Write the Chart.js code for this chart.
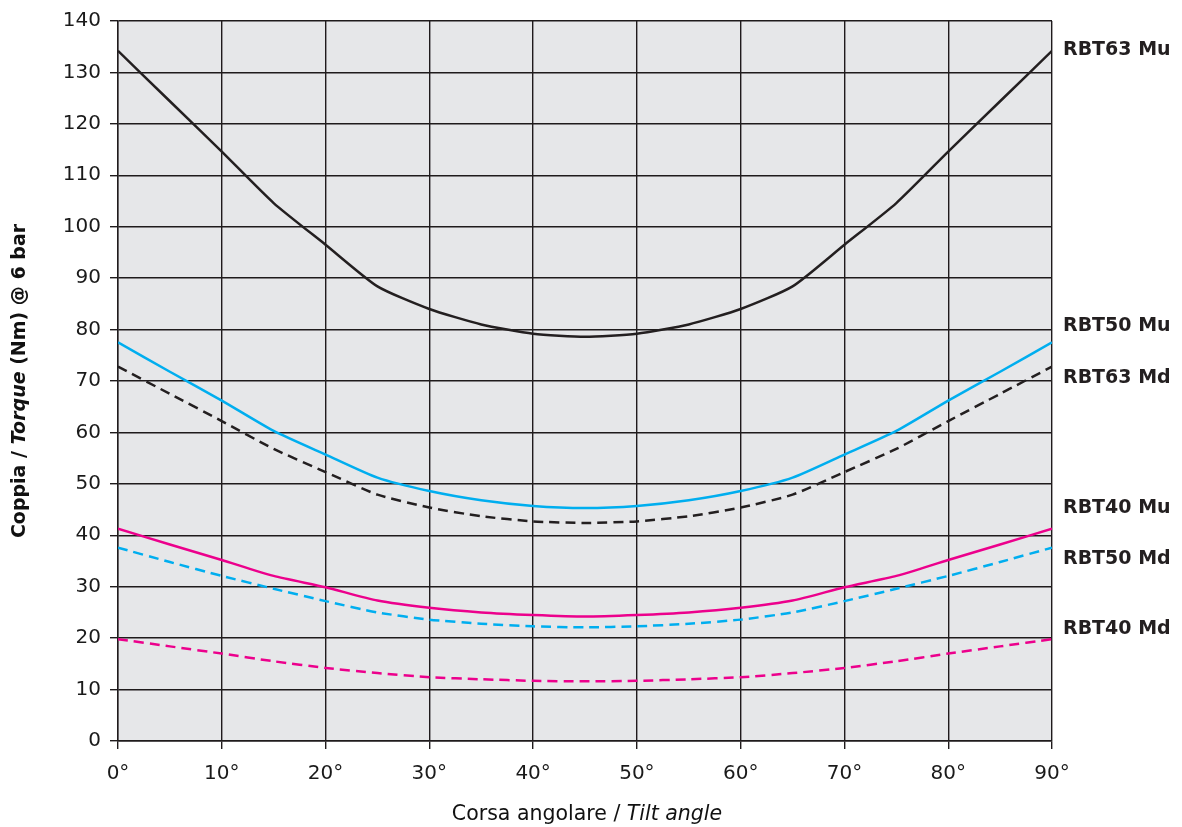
<!DOCTYPE html>
<html lang="it">
<head>
    <meta charset="UTF-8">
    <title>Coppia / Torque</title>
    <script src="https://cdn.jsdelivr.net/npm/chart.js"></script>
    <style>
        body { margin: 0; background: #fff; }
        #wrap { width: 1182px; height: 827px; }
    </style>
</head>
<body>
    <div id="wrap"><canvas id="myChart" width="1182" height="827"></canvas></div>
    <script>
    // angoli in gradi
    const angles = [0, 5, 10, 15, 20, 25, 30, 35, 40, 45, 50, 55, 60, 65, 70, 75, 80, 85, 90];

    // metà curva (0..45), il resto è speculare
    const rbt63MuHalf = [134.2, 124.4, 114.6, 104.6, 96.5, 88.4, 84.0, 81.0, 79.2, 78.6];
    const rbt50MuHalf = [77.5, 71.8, 66.2, 60.3, 55.7, 51.2, 48.6, 46.8, 45.7, 45.3];
    const rbt63MdHalf = [72.8, 67.5, 62.2, 56.8, 52.3, 47.9, 45.4, 43.7, 42.7, 42.4];
    const rbt40MuHalf = [41.3, 38.2, 35.2, 32.1, 29.9, 27.3, 25.9, 25.0, 24.5, 24.2];
    const rbt50MdHalf = [37.6, 34.8, 32.1, 29.6, 27.2, 25.0, 23.6, 22.8, 22.3, 22.1];
    const rbt40MdHalf = [19.8, 18.4, 17.0, 15.5, 14.2, 13.2, 12.4, 12.0, 11.7, 11.6];

    const seriesNames = ['RBT63 Mu', 'RBT50 Mu', 'RBT63 Md', 'RBT40 Mu', 'RBT50 Md', 'RBT40 Md'];
    // posizione (in Nm) delle etichette a destra
    const labelLevels = [134.4, 80.6, 70.5, 45.3, 35.4, 21.7];

    const yTicks = [0, 10, 20, 30, 40, 50, 60, 70, 80, 90, 100, 110, 120, 130, 140];
    const xTicks = [0, 10, 20, 30, 40, 50, 60, 70, 80, 90];

    function mirror(half) {
        return half.concat(half.slice(0, -1).reverse());
    }

    function toPoints(values) {
        return angles.map((a, i) => ({ x: a, y: values[i] }));
    }

    const BLACK = '#231f20';
    const CYAN = '#00aeef';
    const MAGENTA = '#ec008c';

    const styles = [
        { color: BLACK, dash: [] },
        { color: CYAN, dash: [] },
        { color: BLACK, dash: [10, 6] },
        { color: MAGENTA, dash: [] },
        { color: CYAN, dash: [10, 6] },
        { color: MAGENTA, dash: [10, 6] }
    ];

    const halves = [rbt63MuHalf, rbt50MuHalf, rbt63MdHalf, rbt40MuHalf, rbt50MdHalf, rbt40MdHalf];

    const datasets = halves.map((h, i) => ({
        label: seriesNames[i],
        data: toPoints(mirror(h)),
        borderColor: styles[i].color,
        borderDash: styles[i].dash,
        borderWidth: 2.5,
        pointRadius: 0,
        tension: 0.2,
        fill: false
    }));

    const FONT = '"DejaVu Sans", "Liberation Sans", sans-serif';

    // sfondo grigio dell'area grafico
    const plotBg = {
        id: 'plotBg',
        beforeDraw(chart) {
            const { ctx, chartArea: a } = chart;
            ctx.save();
            ctx.fillStyle = '#e6e7e9';
            ctx.fillRect(a.left, a.top, a.right - a.left, a.bottom - a.top);
            ctx.restore();
        }
    };

    // testo con parti in corsivo
    function drawRuns(ctx, runs, size, weight) {
        let total = 0;
        runs.forEach(r => {
            ctx.font = (r.italic ? 'italic ' : '') + weight + ' ' + size + 'px ' + FONT;
            r.w = ctx.measureText(r.text).width;
            total += r.w;
        });
        let x = -total / 2;
        runs.forEach(r => {
            ctx.font = (r.italic ? 'italic ' : '') + weight + ' ' + size + 'px ' + FONT;
            ctx.fillText(r.text, x, 0);
            x += r.w;
        });
    }

    const titles = {
        id: 'titles',
        afterDraw(chart) {
            const { ctx, chartArea: a, scales } = chart;
            ctx.save();
            ctx.fillStyle = '#111';
            ctx.textBaseline = 'middle';
            ctx.textAlign = 'left';

            // titolo asse x
            ctx.save();
            ctx.translate((a.left + a.right) / 2 + 2, 815);
            drawRuns(ctx, [
                { text: 'Corsa angolare / ' },
                { text: 'Tilt angle', italic: true }
            ], 20.5, 'normal');
            ctx.restore();

            // titolo asse y
            ctx.save();
            ctx.translate(20, 381);
            ctx.rotate(-Math.PI / 2);
            drawRuns(ctx, [
                { text: 'Coppia / ' },
                { text: 'Torque', italic: true },
                { text: ' (Nm) @ 6 bar' }
            ], 19, 'bold');
            ctx.restore();

            // etichette delle curve
            ctx.font = 'bold 19px ' + FONT;
            ctx.fillStyle = '#231f20';
            seriesNames.forEach((name, i) => {
                ctx.fillText(name, a.right + 11, scales.y.getPixelForValue(labelLevels[i]));
            });
            ctx.restore();
        }
    };

    const ctx = document.getElementById('myChart').getContext('2d');

    new Chart(ctx, {
        type: 'line',
        data: { datasets: datasets },
        options: {
            responsive: false,
            animation: false,
            layout: { padding: { top: 13, right: 130, left: 0, bottom: 0 } },
            plugins: {
                legend: { display: false },
                tooltip: { enabled: false }
            },
            scales: {
                x: {
                    type: 'linear',
                    min: 0,
                    max: 90,
                    afterBuildTicks(scale) {
                        scale.ticks = xTicks.map(v => ({ value: v }));
                    },
                    afterFit(scale) { scale.height = 86; },
                    grid: { color: '#1f1b1c', lineWidth: 1.4, tickLength: 8 },
                    border: { color: '#1f1b1c', width: 1.4 },
                    ticks: {
                        color: '#1a1a1a',
                        font: { family: FONT, size: 20 },
                        padding: 13,
                        maxRotation: 0,
                        callback: v => v + '°'
                    }
                },
                y: {
                    min: 0,
                    max: 140,
                    afterBuildTicks(scale) {
                        scale.ticks = yTicks.map(v => ({ value: v }));
                    },
                    afterFit(scale) { scale.width = 118; },
                    grid: { color: '#1f1b1c', lineWidth: 1.4, tickLength: 8 },
                    border: { color: '#1f1b1c', width: 1.4 },
                    ticks: {
                        color: '#1a1a1a',
                        font: { family: FONT, size: 20 },
                        padding: 9
                    }
                }
            }
        },
        plugins: [plotBg, titles]
    });
    </script>
</body>
</html>
